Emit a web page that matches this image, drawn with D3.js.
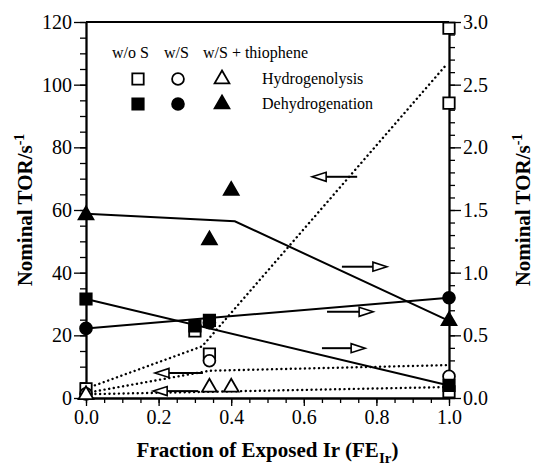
<!DOCTYPE html>
<html>
<head>
<meta charset="utf-8">
<script src="https://cdn.jsdelivr.net/npm/d3@7"></script>
<style>
  body { margin: 0; background: #fff; }
</style>
</head>
<body>
<div id="chart"></div>
<script>
// hydrogenolysis (open symbols, dotted guides) -> left axis
var hydX_noS = [0, 0.30, 0.34, 1.0, 1.0, 1.0];
var hydY_noS = [2.9, 21.4, 14, 118, 94.1, 2.0];
var hydX_S = [0, 0.34, 1.0];
var hydY_S = [1.3, 11.9, 6.9];
var hydX_thio = [0, 0.34, 0.40];
var hydY_thio = [1.0, 3.4, 3.4];

// dehydrogenation (filled symbols, solid guides) -> right axis
var dehX_noS = [0, 0.30, 0.34, 1.0];
var dehY_noS = [0.79, 0.575, 0.62, 0.10];
var dehX_S = [0, 0.34, 1.0];
var dehY_S = [0.555, 0.60, 0.80];
var dehX_thio = [0, 0.34, 0.40, 1.0];
var dehY_thio = [1.46, 1.26, 1.655, 0.615];

// guide lines
var guideDotted = [
  [[0, 3], [0.32, 16.5], [0.99, 106]],
  [[0, 1.6], [0.34, 8.7], [1, 10.5]],
  [[0, 1.2], [1, 3.5]]
];
var guideSolid = [
  [[0, 1.47], [0.41, 1.41], [1, 0.615]],
  [[0, 0.555], [1, 0.80]],
  [[0, 0.79], [1, 0.10]]
];

// arrows [fromX, toX, y(left units)]
var arrows = [
  [0.747, 0.623, 70.6],
  [0.705, 0.829, 41.9],
  [0.664, 0.791, 27.5],
  [0.650, 0.769, 15.9],
  [0.322, 0.190, 8.0],
  [0.309, 0.185, 2.2]
];

var xTicks = [0, 0.2, 0.4, 0.6, 0.8, 1.0];
var yLeftTicks = [0, 20, 40, 60, 80, 100, 120];
var yRightTicks = [0, 0.5, 1.0, 1.5, 2.0, 2.5, 3.0];

var FONT = '"Liberation Serif", "DejaVu Serif", "Times New Roman", Times, serif';

var svgWidth = 544, svgHeight = 467;
var margin = {left: 86, right: 95, top: 22, bottom: 69};
var width = svgWidth - margin.left - margin.right;
var height = svgHeight - margin.top - margin.bottom;

var svg = d3.select("#chart").append("svg")
  .attr("width", svgWidth)
  .attr("height", svgHeight)
  .attr("font-family", FONT);

var g = svg.append("g")
  .attr("transform", `translate(${margin.left},${margin.top})`);

var x = d3.scaleLinear().domain([0, 1]).range([0, width]);
var yL = d3.scaleLinear().domain([0, 120]).range([height, 0]);
var yR = d3.scaleLinear().domain([0, 3]).range([height, 0]);

function styleAxis(sel) {
  sel.attr("font-family", FONT);
  sel.select(".domain").attr("stroke", "#000").attr("stroke-width", 1.8);
  sel.selectAll(".tick line").attr("stroke", "#000").attr("stroke-width", 1.3);
  sel.selectAll(".tick text").style("font-size", "20px").attr("fill", "#000");
}

// minor ticks
g.append("g").attr("transform", `translate(0,${height})`)
  .call(d3.axisBottom(x).tickValues(d3.range(0, 1.001, 0.05)).tickSize(5).tickFormat("").tickSizeOuter(0))
  .call(styleAxis);
g.append("g")
  .call(d3.axisLeft(yL).tickValues(d3.range(0, 121, 5)).tickSize(6).tickFormat("").tickSizeOuter(0))
  .call(styleAxis);
g.append("g").attr("transform", `translate(${width},0)`)
  .call(d3.axisRight(yR).tickValues(d3.range(0, 3.001, 0.1)).tickSize(6).tickFormat("").tickSizeOuter(0))
  .call(styleAxis);

// major ticks
g.append("g").attr("transform", `translate(0,${height})`)
  .call(d3.axisBottom(x).tickValues(xTicks).tickSize(8).tickPadding(4).tickFormat(d3.format(".1f")).tickSizeOuter(0))
  .call(styleAxis);
g.append("g")
  .call(d3.axisLeft(yL).tickValues(yLeftTicks).tickSize(12).tickPadding(2).tickSizeOuter(0))
  .call(styleAxis);
g.append("g").attr("transform", `translate(${width},0)`)
  .call(d3.axisRight(yR).tickValues(yRightTicks).tickSize(12).tickPadding(2).tickFormat(d3.format(".1f")).tickSizeOuter(0))
  .call(styleAxis);

// top border
g.append("line").attr("x1", 0).attr("x2", width).attr("y1", 0).attr("y2", 0)
  .attr("stroke", "#000").attr("stroke-width", 1.8);

// guide lines
var lineL = d3.line().x(d => x(d[0])).y(d => yL(d[1]));
var lineR = d3.line().x(d => x(d[0])).y(d => yR(d[1]));

guideDotted.forEach(function(pts) {
  g.append("path").attr("d", lineL(pts))
    .attr("fill", "none").attr("stroke", "#000").attr("stroke-width", 2.4)
    .attr("stroke-linecap", "round").attr("stroke-dasharray", "0.1,4.6");
});
guideSolid.forEach(function(pts) {
  g.append("path").attr("d", lineR(pts))
    .attr("fill", "none").attr("stroke", "#000").attr("stroke-width", 2);
});

// arrows
arrows.forEach(function(a) {
  var x0 = x(a[0]), x1 = x(a[1]), yy = yL(a[2]);
  var dir = x1 > x0 ? 1 : -1;
  var headLen = 14, headH = 4.5;
  g.append("line").attr("x1", x0).attr("x2", x1 - dir * headLen).attr("y1", yy).attr("y2", yy)
    .attr("stroke", "#000").attr("stroke-width", 2);
  g.append("path")
    .attr("d", `M${x1},${yy}L${x1 - dir * headLen},${yy - headH}L${x1 - dir * headLen},${yy + headH}Z`)
    .attr("fill", "#fff").attr("stroke", "#000").attr("stroke-width", 1.6);
});

// markers
var symSq = d3.symbol().type(d3.symbolSquare).size(130);
var symCi = d3.symbol().type(d3.symbolCircle).size(110);
var symTr = d3.symbol().type(d3.symbolTriangle).size(95);

function drawPts(xs, ys, scale, sym, filled) {
  xs.forEach(function(xv, i) {
    g.append("path").attr("d", sym())
      .attr("transform", `translate(${x(xv)},${scale(ys[i])})`)
      .attr("fill", filled ? "#000" : "#fff")
      .attr("stroke", "#000").attr("stroke-width", 1.8);
  });
}
drawPts(hydX_noS, hydY_noS, yL, symSq, false);
drawPts(hydX_S, hydY_S, yL, symCi, false);
drawPts(hydX_thio, hydY_thio, yL, symTr, false);
drawPts(dehX_noS, dehY_noS, yR, symSq, true);
drawPts(dehX_S, dehY_S, yR, symCi, true);
drawPts(dehX_thio, dehY_thio, yR, symTr, true);

// legend
var leg = svg.append("g");
var legCols = [138, 178, 222];
[["w/o S", 112], ["w/S", 164], ["w/S + thiophene", 203]].forEach(function(h) {
  leg.append("text").attr("x", h[1]).attr("y", 58).style("font-size", "16px").text(h[0]);
});
[[symSq, symCi, symTr, false, "Hydrogenolysis", 79], [symSq, symCi, symTr, true, "Dehydrogenation", 104]].forEach(function(r) {
  [r[0], r[1], r[2]].forEach(function(s, i) {
    leg.append("path").attr("d", s())
      .attr("transform", `translate(${legCols[i]},${r[5]})`)
      .attr("fill", r[3] ? "#000" : "#fff")
      .attr("stroke", "#000").attr("stroke-width", 1.8);
  });
  leg.append("text").attr("x", 262).attr("y", r[5] + 5).style("font-size", "16px").text(r[4]);
});

// axis titles
var xt = svg.append("text")
  .attr("x", margin.left + width / 2).attr("y", 457)
  .attr("text-anchor", "middle")
  .style("font-size", "21px").style("font-weight", "bold");
xt.append("tspan").text("Fraction of Exposed Ir (FE");
xt.append("tspan").attr("dy", 6).style("font-size", "15px").text("Ir");
xt.append("tspan").attr("dy", -6).text(")");

function yTitle(xpos) {
  var t = svg.append("text")
    .attr("transform", `translate(${xpos},${margin.top + height / 2}) rotate(-90)`)
    .attr("text-anchor", "middle")
    .style("font-size", "21px").style("font-weight", "bold");
  t.append("tspan").text("Nominal TOR/s");
  t.append("tspan").attr("dy", -8).style("font-size", "14px").text("-1");
}
yTitle(32);
yTitle(530);

svg.selectAll("text").style("font-family", FONT);
</script>
</body>
</html>
